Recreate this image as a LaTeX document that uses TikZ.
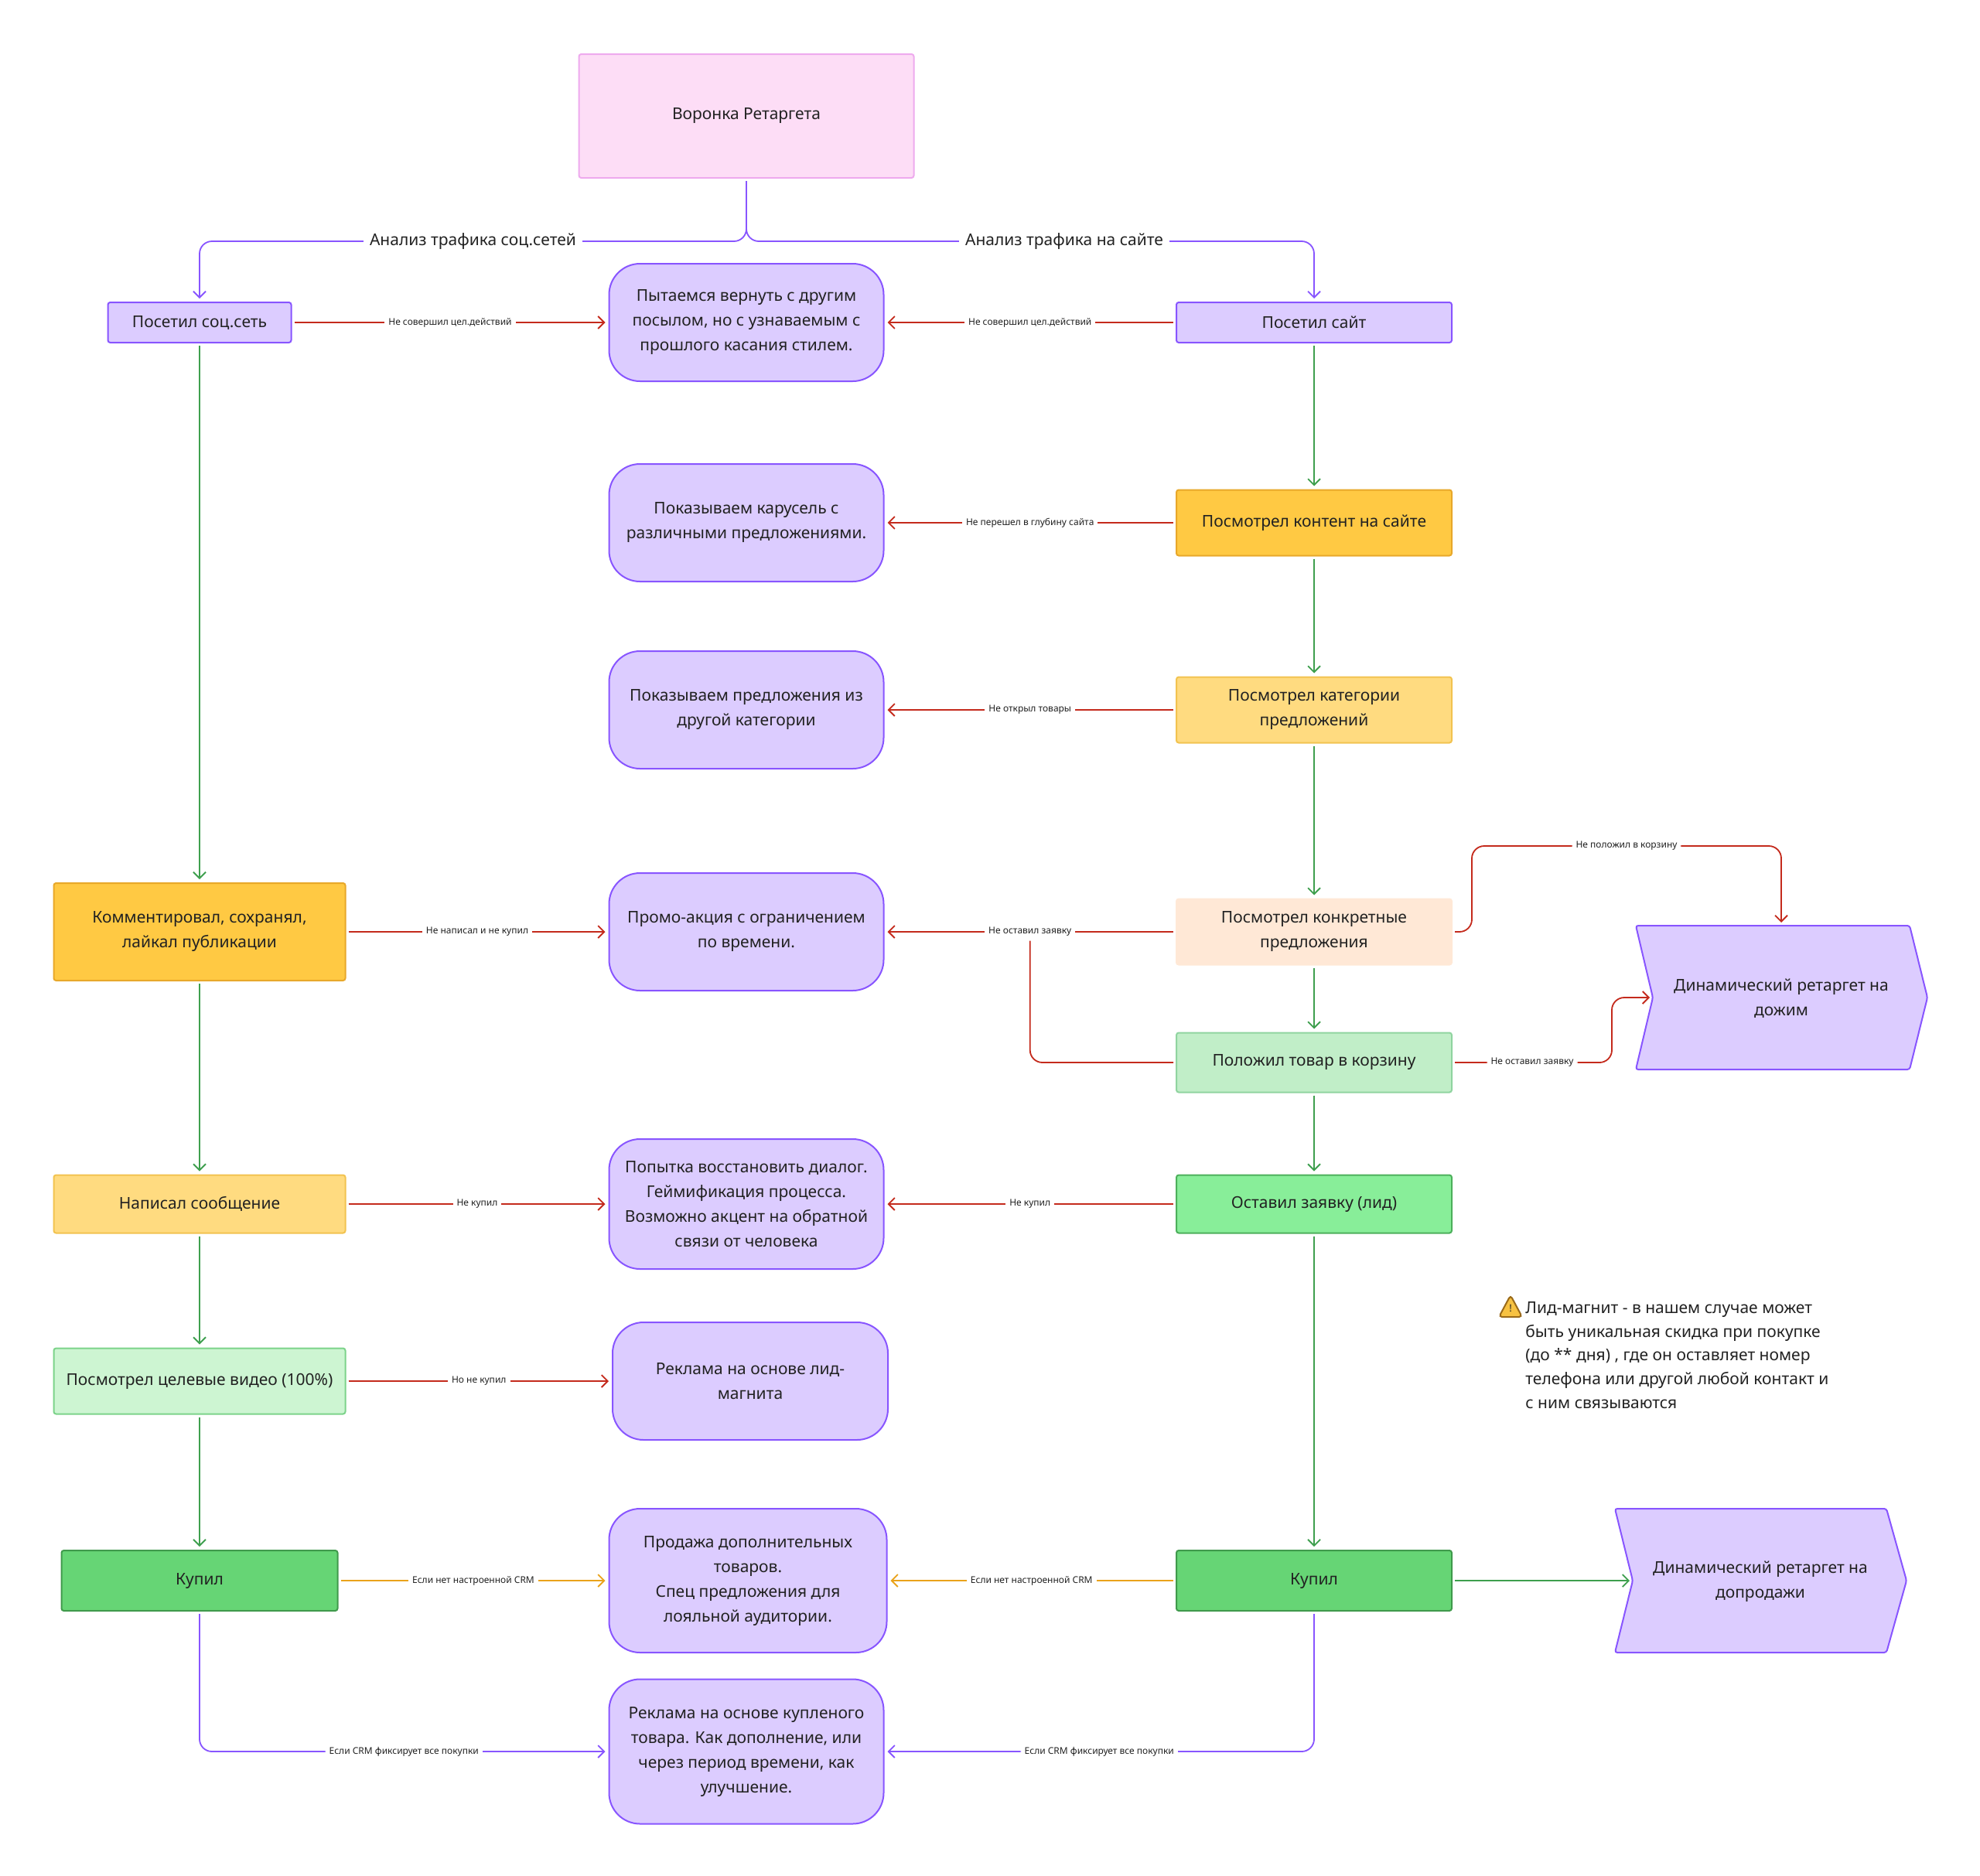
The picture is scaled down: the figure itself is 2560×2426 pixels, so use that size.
\documentclass[tikz,border=0pt]{standalone}
\usepackage{fontspec}
\setmainfont{Noto Sans}
\usetikzlibrary{arrows.meta}

\definecolor{lav}{HTML}{DCCCFF}
\definecolor{purp}{HTML}{8855FF}
\definecolor{pinkf}{HTML}{FDDDF6}
\definecolor{pinkd}{HTML}{EEAAEE}
\definecolor{orgf}{HTML}{FFC943}
\definecolor{orgd}{HTML}{E8A82A}
\definecolor{ylwf}{HTML}{FFDB80}
\definecolor{ylwd}{HTML}{F2C350}
\definecolor{peach}{HTML}{FFE8D6}
\definecolor{grnf}{HTML}{C1EEC8}
\definecolor{grnd}{HTML}{90D4A0}
\definecolor{vidf}{HTML}{CDF5D2}
\definecolor{vidd}{HTML}{7CD38A}
\definecolor{leadf}{HTML}{88EE99}
\definecolor{leadd}{HTML}{4DB05C}
\definecolor{buyf}{HTML}{66D575}
\definecolor{buyd}{HTML}{409A4C}
\definecolor{redl}{HTML}{C42A1C}
\definecolor{orgl}{HTML}{EAA31B}
\definecolor{grnl}{HTML}{3E9F4E}
\definecolor{txt}{HTML}{222222}
\definecolor{warnf}{HTML}{F7C242}
\definecolor{warnd}{HTML}{9A6A1A}

\tikzset{
  stage/.style={rectangle, rounded corners=1.5pt, line width=1pt, align=center,
    text=txt, font=\fontsize{10.5}{16}\selectfont, inner sep=0pt},
  offer/.style={stage, rounded corners=20pt, fill=lav, draw=purp,
    minimum width=177.5pt, minimum height=76pt},
  link/.style={line width=0.9pt, ->, shorten <=1.5pt, shorten >=2pt},
  nope/.style={link, draw=redl},
  good/.style={link, draw=grnl},
  crm/.style={link, draw=orgl},
  path/.style={link, draw=purp, rounded corners=8pt},
  lbl/.style={fill=white, text=txt, font=\fontsize{6}{7}\selectfont, inner sep=2.5pt},
  sec/.style={fill=white, text=txt, font=\fontsize{10.5}{12}\selectfont, inner sep=4pt}
}

\begin{document}
\begin{tikzpicture}[x=0.5pt, y=-0.5pt, >={Straight Barb[length=4pt,width=8pt]}]
\useasboundingbox[fill=white] (0,0) rectangle (2560,2426);

% head
\node[stage, fill=pinkf, draw=pinkd, minimum width=216.5pt, minimum height=80pt] (top) at (965,150) {Воронка Ретаргета};

% left column
\node[stage, fill=lav, draw=purp, minimum width=118.5pt, minimum height=26pt] (soc) at (258,417) {Посетил соц.сеть};
\node[stage, fill=orgf, draw=orgd, minimum width=188.5pt, minimum height=63pt] (comm) at (258,1205) {Комментировал, сохранял,\\лайкал публикации};
\node[stage, fill=ylwf, draw=ylwd, minimum width=188.5pt, minimum height=37.5pt] (msg) at (258,1557) {Написал сообщение};
\node[stage, fill=vidf, draw=vidd, minimum width=188.5pt, minimum height=42.5pt] (video) at (258,1786) {Посмотрел целевые видео (100\%)};
\node[stage, fill=buyf, draw=buyd, minimum width=178.5pt, minimum height=39pt] (buyL) at (258,2044) {Купил};

% middle column
\node[offer] (try) at (965,417) {Пытаемся вернуть с другим\\посылом, но с узнаваемым с\\прошлого касания стилем.};
\node[offer] (carousel) at (965,676) {Показываем карусель с\\различными предложениями.};
\node[offer] (othercat) at (965,918) {Показываем предложения из\\другой категории};
\node[offer] (promo) at (965,1205) {Промо-акция с ограничением\\по времени.};
\node[offer, minimum height=84pt] (dialog) at (965,1557) {Попытка восстановить диалог.\\Геймификация процесса.\\Возможно акцент на обратной\\связи от человека};
\node[offer, minimum width=178pt] (leadad) at (970,1786) {Реклама на основе лид-\\магнита};
\node[offer, minimum width=179.5pt, minimum height=93pt] (sale) at (967,2044) {Продажа дополнительных\\товаров.\\Спец предложения для\\лояльной аудитории.};
\node[offer, minimum height=93.5pt] (ad) at (965,2265) {Реклама на основе купленого\\товара. Как дополнение, или\\через период времени, как\\улучшение.};

% right column
\node[stage, fill=lav, draw=purp, minimum width=178pt, minimum height=26pt] (site) at (1699,417) {Посетил сайт};
\node[stage, fill=orgf, draw=orgd, minimum width=178pt, minimum height=42.5pt] (content) at (1699,676) {Посмотрел контент на сайте};
\node[stage, fill=ylwf, draw=ylwd, minimum width=178pt, minimum height=42.5pt] (cats) at (1699,918) {Посмотрел категории\\предложений};
\node[stage, fill=peach, draw=peach, minimum width=178pt, minimum height=42.5pt] (konkr) at (1699,1205) {Посмотрел конкретные\\предложения};
\node[stage, fill=grnf, draw=grnd, minimum width=178pt, minimum height=38.5pt] (korz) at (1699,1374) {Положил товар в корзину};
\node[stage, fill=leadf, draw=leadd, minimum width=178pt, minimum height=37.5pt] (lead) at (1699,1557) {Оставил заявку (лид)};
\node[stage, fill=buyf, draw=buyd, minimum width=178pt, minimum height=39pt] (buyR) at (1699,2044) {Купил};

% chevrons
\draw[fill=lav, draw=purp, line width=1pt, rounded corners=1.5pt] (2115,1197) -- (2137,1290) -- (2115,1383) -- (2469,1383) -- (2492,1290) -- (2469,1197) -- cycle;
\coordinate (dz1-in) at (2137,1290);
\node[stage, minimum height=93pt] (dz1) at (2303,1291) {Динамический ретаргет на\\дожим};
\draw[fill=lav, draw=purp, line width=1pt, rounded corners=1.5pt] (2088,1951) -- (2111,2044) -- (2088,2137) -- (2439,2137) -- (2465,2044) -- (2439,1951) -- cycle;
\coordinate (dz2-in) at (2111,2044);
\node[stage, minimum height=93pt] (dz2) at (2276,2045) {Динамический ретаргет на\\допродажи};

% note
\draw[fill=warnf, draw=warnd, line width=1pt, rounded corners=2pt] (1938,1703) -- (1953,1675) -- (1968,1703) -- cycle;
\node[text=txt, font=\fontsize{6.5}{7}\selectfont\bfseries] (warn) at (1953,1692) {!};
\node[anchor=north west, inner sep=0pt, align=left, text=txt, font=\fontsize{10.5}{15.35}\selectfont] (note) at (1972,1683) {Лид-магнит - в нашем случае может\\быть уникальная скидка при покупке\\(до ** дня) , где он оставляет номер\\телефона или другой любой контакт и\\с ним связываются};

% branches
\draw[path] (top.south) -- ++(0,81) -| node[sec, pos=0.25] {Анализ трафика соц.сетей} (soc.north);
\draw[path] (top.south) -- ++(0,81) -| node[sec, pos=0.28] {Анализ трафика на сайте} (site.north);

% green flow
\draw[good] (soc) -- (comm);
\draw[good] (comm) -- (msg);
\draw[good] (msg) -- (video);
\draw[good] (video) -- (buyL);
\draw[good] (site) -- (content);
\draw[good] (content) -- (cats);
\draw[good] (cats) -- (konkr);
\draw[good] (konkr) -- (korz);
\draw[good] (korz) -- (lead);
\draw[good] (lead) -- (buyR);
\draw[good] (buyR.east) -- (dz2-in);

% red exits
\draw[nope] (soc) -- node[lbl] {Не совершил цел.действий} (try);
\draw[nope] (site) -- node[lbl] {Не совершил цел.действий} (try);
\draw[nope] (content) -- node[lbl] {Не перешел в глубину сайта} (carousel);
\draw[nope] (cats) -- node[lbl] {Не открыл товары} (othercat);
\draw[nope] (comm) -- node[lbl] {Не написал и не купил} (promo);
\draw[nope] (konkr.west) -- node[lbl] (nz) {Не оставил заявку} (promo.east);
\draw[draw=redl, line width=0.9pt, rounded corners=8pt, shorten <=1.5pt] (korz.west) -| (nz.south);
\draw[nope, rounded corners=8pt] (konkr.east) -- ++(25,0) -- ++(0,-111) -| node[lbl, pos=0.25] {Не положил в корзину} (dz1.north);
\draw[nope, rounded corners=8pt] (korz.east) -- node[lbl] {Не оставил заявку} ++(206,0) |- (dz1-in);
\draw[nope] (msg) -- node[lbl] {Не купил} (dialog);
\draw[nope] (lead) -- node[lbl] {Не купил} (dialog);
\draw[nope] (video) -- node[lbl] {Но не купил} (leadad);

% after purchase
\draw[crm] (buyL) -- node[lbl] {Если нет настроенной CRM} (sale);
\draw[crm] (buyR) -- node[lbl] {Если нет настроенной CRM} (sale);
\draw[path] (buyL.south) |- node[lbl, pos=0.75] {Если CRM фиксирует все покупки} (ad.west);
\draw[path] (buyR.south) |- node[lbl, pos=0.75] {Если CRM фиксирует все покупки} (ad.east);
\end{tikzpicture}
\end{document}
